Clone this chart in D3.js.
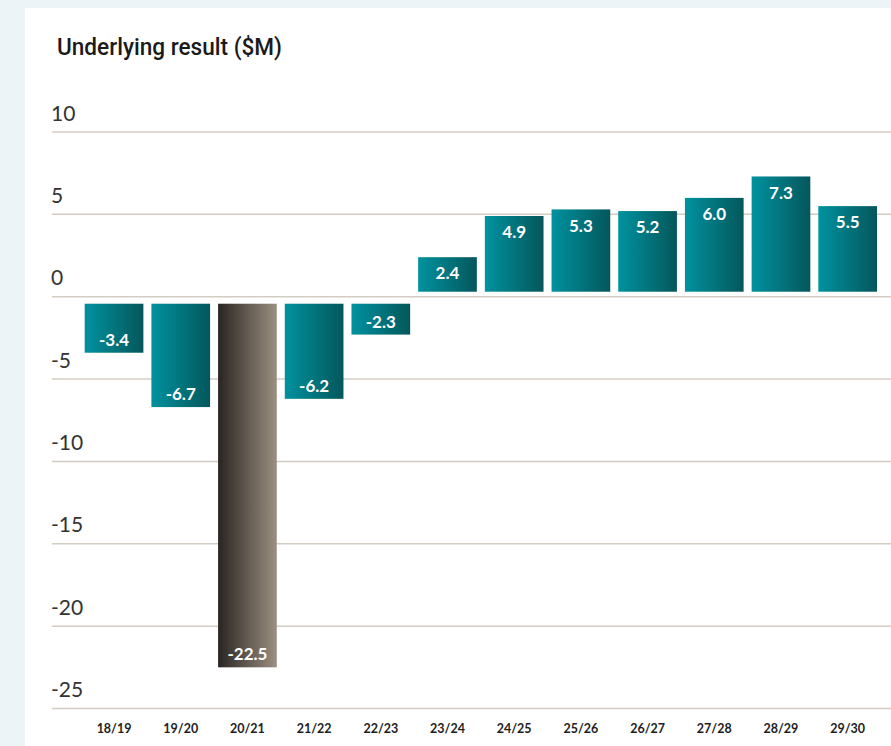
<!DOCTYPE html>
<html>
<head>
<meta charset="utf-8">
<script src="https://cdn.jsdelivr.net/npm/d3@7"></script>
<style>
  html, body { margin: 0; padding: 0; background: #edf4f7; }
  svg { display: block; }
</style>
</head>
<body>
<svg id="chart" width="891" height="746"></svg>
<script>
// Underlying result by financial year ($M)
const years = ["18/19", "19/20", "20/21", "21/22", "22/23", "23/24", "24/25", "25/26", "26/27", "27/28", "28/29", "29/30"];
const results = [-3.4, -6.7, -22.5, -6.2, -2.3, 2.4, 4.9, 5.3, 5.2, 6.0, 7.3, 5.5];
const highlightYear = "20/21";
const yTicks = [10, 5, 0, -5, -10, -15, -20, -25];
const titleText = "Underlying result ($M)";

const W = 891, H = 746;
const svg = d3.select("#chart");

// white panel
svg.append("rect").attr("x", 25).attr("y", 8).attr("width", W - 25).attr("height", H - 8).attr("fill", "#ffffff");

const defs = svg.append("defs");
function grad(id, c0, c1) {
  const g = defs.append("linearGradient").attr("id", id).attr("x1", "0%").attr("x2", "100%").attr("y1", "0%").attr("y2", "0%");
  g.append("stop").attr("offset", "0%").attr("stop-color", c0);
  g.append("stop").attr("offset", "100%").attr("stop-color", c1);
}
grad("tealGrad", "#00929f", "#04575b");
grad("greyGrad", "#2a2522", "#9b8f80");

const x = d3.scaleBand().domain(years).range([84.7, 877]).paddingInner(0.12).paddingOuter(0);
const y = d3.scaleLinear().domain([-25, 10]).range([708.5, 132]);

// title
svg.append("text")
  .attr("x", 57).attr("y", 54.5)
  .attr("font-family", "Roboto, sans-serif").attr("font-weight", 500).attr("font-size", 23.5)
  .attr("textLength", 225).attr("lengthAdjust", "spacingAndGlyphs")
  .attr("fill", "#1a1a1a")
  .text(titleText);

// gridlines and tick labels
const grid = svg.append("g");
grid.selectAll("line").data(yTicks).join("line")
  .attr("x1", 52).attr("x2", W)
  .attr("y1", d => y(d)).attr("y2", d => y(d))
  .attr("stroke", "#d3ccc2").attr("stroke-width", 1.5);
grid.selectAll("text").data(yTicks).join("text")
  .attr("x", 51).attr("y", d => y(d) - 11.5)
  .attr("font-family", "Lato, sans-serif").attr("font-weight", 400).attr("font-size", 21)
  .attr("fill", "#333")
  .text(d => d);

// bars, inset slightly from the zero line
const posGap = 5, negGap = 7;
const bars = svg.append("g");
bars.selectAll("rect").data(years).join("rect")
  .attr("x", d => x(d))
  .attr("width", x.bandwidth())
  .attr("y", (d, i) => results[i] >= 0 ? y(results[i]) : y(0) + negGap)
  .attr("height", (d, i) => results[i] >= 0 ? (y(0) - posGap) - y(results[i]) : y(results[i]) - (y(0) + negGap))
  .attr("fill", d => d === highlightYear ? "url(#greyGrad)" : "url(#tealGrad)");

// value labels: near the outer end of each bar, centred when the bar is short
bars.selectAll("text").data(years).join("text")
  .attr("x", d => x(d) + x.bandwidth() / 2)
  .attr("y", (d, i) => {
    const v = results[i];
    if (v >= 0) {
      const top = y(v), bottom = y(0) - posGap, mid = (top + bottom) / 2;
      return Math.min(top + 16, mid);
    }
    const top = y(0) + negGap, bottom = y(v), mid = (top + bottom) / 2;
    return Math.max(bottom - 13, mid);
  })
  .attr("dy", "0.36em")
  .attr("text-anchor", "middle")
  .attr("font-family", "Lato, sans-serif").attr("font-weight", 700).attr("font-size", 17)
  .attr("fill", "#ffffff")
  .text((d, i) => results[i].toFixed(1));

// category labels
svg.append("g").selectAll("text").data(years).join("text")
  .attr("x", d => x(d) + x.bandwidth() / 2)
  .attr("y", 732.5)
  .attr("text-anchor", "middle")
  .attr("font-family", "Lato, sans-serif").attr("font-weight", 700).attr("font-size", 12.5)
  .attr("fill", "#1e1e1e")
  .text(d => d);
</script>
</body>
</html>
